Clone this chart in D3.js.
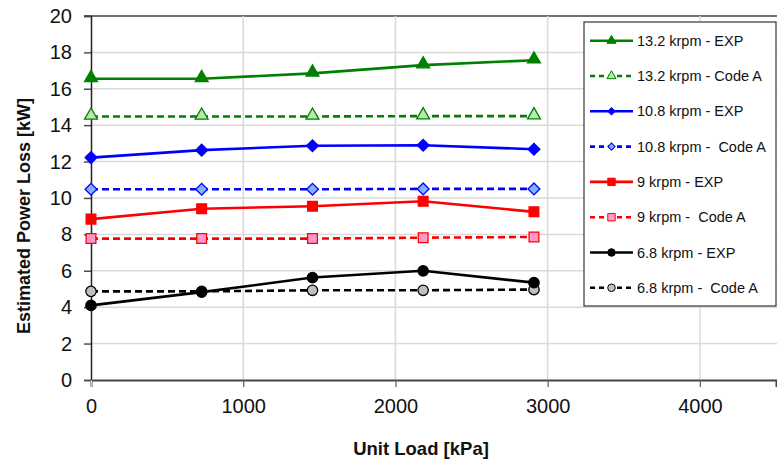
<!DOCTYPE html>
<html><head><meta charset="utf-8">
<script src="https://cdn.jsdelivr.net/npm/d3@7"></script>
<style>body{margin:0;background:#fff}svg{display:block;font-family:"Liberation Sans",Arial,sans-serif}</style>
</head><body><svg id="c" width="777" height="464"></svg>
<script>
const unitLoad = [0, 727, 1455, 2182, 2910];
const seriesNames = ["13.2 krpm - EXP","13.2 krpm - Code A","10.8 krpm - EXP","10.8 krpm -  Code A","9 krpm - EXP","9 krpm -  Code A","6.8 krpm - EXP","6.8 krpm -  Code A"];
const exp132 = [16.55, 16.55, 16.85, 17.3, 17.57];
const codeA132 = [14.48, 14.48, 14.48, 14.5, 14.5];
const exp108 = [12.22, 12.63, 12.87, 12.9, 12.68];
const codeA108 = [10.48, 10.48, 10.48, 10.5, 10.5];
const exp9 = [8.84, 9.41, 9.55, 9.82, 9.24];
const codeA9 = [7.77, 7.77, 7.77, 7.82, 7.86];
const exp68 = [4.1, 4.83, 5.63, 6.0, 5.35];
const codeA68 = [4.87, 4.87, 4.93, 4.93, 4.97];
const xTicks = [0, 1000, 2000, 3000, 4000];
const yTicks = [0, 2, 4, 6, 8, 10, 12, 14, 16, 18, 20];

const styles = [
  {v: exp132, color:"#008000", fill:"#008000", dash:null, shape:d3.symbolTriangle, size:72, lsize:36, rot:0},
  {v: codeA132, color:"#008000", fill:"#b8e8b0", dash:"7,4", shape:d3.symbolTriangle, size:72, lsize:36, rot:0},
  {v: exp108, color:"#0000ff", fill:"#0000ff", dash:null, shape:d3.symbolSquare, size:70, lsize:26, rot:45},
  {v: codeA108, color:"#0000ff", fill:"#7fb2ff", dash:"7,4", shape:d3.symbolSquare, size:70, lsize:26, rot:45},
  {v: exp9, color:"#ff0000", fill:"#ff0000", dash:null, shape:d3.symbolSquare, size:95, lsize:55, rot:0},
  {v: codeA9, color:"#ff0000", fill:"#ff99cc", dash:"7,4", shape:d3.symbolSquare, size:95, lsize:55, rot:0},
  {v: exp68, color:"#000000", fill:"#000000", dash:null, shape:d3.symbolCircle, size:85, lsize:45, rot:0},
  {v: codeA68, color:"#000000", fill:"#c0c0c0", dash:"7,4", shape:d3.symbolCircle, size:85, lsize:45, rot:0}
];

const svg = d3.select("#c");
const x = d3.scaleLinear().domain([0, 4500]).range([91, 776]);
const y = d3.scaleLinear().domain([0, 20]).range([380, 16]);

// grid
svg.append("g").selectAll("line").data(yTicks.filter(d=>d>0)).join("line")
  .attr("x1", 84).attr("x2", 777).attr("y1", d=>y(d)).attr("y2", d=>y(d))
  .attr("stroke", d=> d===20 ? "#444" : "#d9d9d9").attr("stroke-width", 1.5);
svg.append("g").selectAll("line").data(xTicks.filter(d=>d>0)).join("line")
  .attr("x1", d=>x(d)).attr("x2", d=>x(d)).attr("y1", 16).attr("y2", 380)
  .attr("stroke", "#d9d9d9").attr("stroke-width", 1.5);

// axes
const yAxis = d3.axisLeft(y).tickValues(yTicks).tickSize(7).tickPadding(12).tickFormat(d3.format("d"));
const gy = svg.append("g").attr("transform","translate(91,0)").call(yAxis);
gy.select(".domain").attr("stroke","#222").attr("stroke-width",1.5);
gy.selectAll(".tick line").attr("stroke","#444").attr("stroke-width",1.3);
gy.selectAll(".tick text").attr("font-size",20).attr("fill","#111").attr("font-family","Liberation Sans, Arial, sans-serif");

const xAxis = d3.axisBottom(x).tickValues(xTicks).tickSize(7).tickPadding(12).tickFormat(d3.format("d"));
const gx = svg.append("g").attr("transform","translate(0,380)").call(xAxis);
gx.select(".domain").attr("stroke","#444").attr("stroke-width",2);
gx.selectAll(".tick line").attr("stroke",(d)=> d===0 ? "#ccc" : "#666").attr("stroke-width",1.3);
gx.selectAll(".tick text").attr("font-size",20).attr("fill","#111").attr("font-family","Liberation Sans, Arial, sans-serif");

// titles
svg.append("text").attr("x", 421).attr("y", 455).attr("text-anchor","middle")
  .attr("font-size",18.5).attr("font-weight","bold").attr("fill","#111").text("Unit Load [kPa]");
svg.append("text").attr("transform","translate(30,216) rotate(-90)").attr("text-anchor","middle")
  .attr("font-size",18).attr("font-weight","bold").attr("fill","#111").text("Estimated Power Loss [kW]");

// series
const line = d3.line().x((d,i)=>x(unitLoad[i])).y(d=>y(d));
styles.slice().reverse().forEach(s=>{
  svg.append("path").attr("d", line(s.v)).attr("fill","none").attr("stroke", s.color)
    .attr("stroke-width", 2.6).attr("stroke-dasharray", s.dash);
  svg.append("g").selectAll("path").data(s.v).join("path")
    .attr("transform",(d,i)=>`translate(${x(unitLoad[i])},${y(d) + (s.shape===d3.symbolTriangle? -1:0)}) rotate(${s.rot})`)
    .attr("d", d3.symbol().type(s.shape).size(s.size)())
    .attr("fill", s.fill).attr("stroke", s.color).attr("stroke-width", 1.3);
});

// legend
const lg = svg.append("g");
lg.append("rect").attr("x",584).attr("y",22).attr("width",192).attr("height",284)
  .attr("fill","#fff").attr("stroke","#444").attr("stroke-width",1.3);
styles.forEach((s,i)=>{
  const yy = 40.7 + i*35.3;
  lg.append("line").attr("x1",590).attr("x2",633).attr("y1",yy).attr("y2",yy)
    .attr("stroke",s.color).attr("stroke-width",2.6).attr("stroke-dasharray", s.dash ? "5,4" : null);
  lg.append("path").attr("transform",`translate(611.5,${yy}) rotate(${s.rot})`)
    .attr("d", d3.symbol().type(s.shape).size(s.lsize)())
    .attr("fill", s.fill).attr("stroke", s.color).attr("stroke-width",1);
  lg.append("text").attr("x",637).attr("y",yy+5).attr("font-size",14.5).attr("fill","#111")
    .attr("xml:space","preserve").style("white-space","pre").text(seriesNames[i]);
});
</script></body></html>
